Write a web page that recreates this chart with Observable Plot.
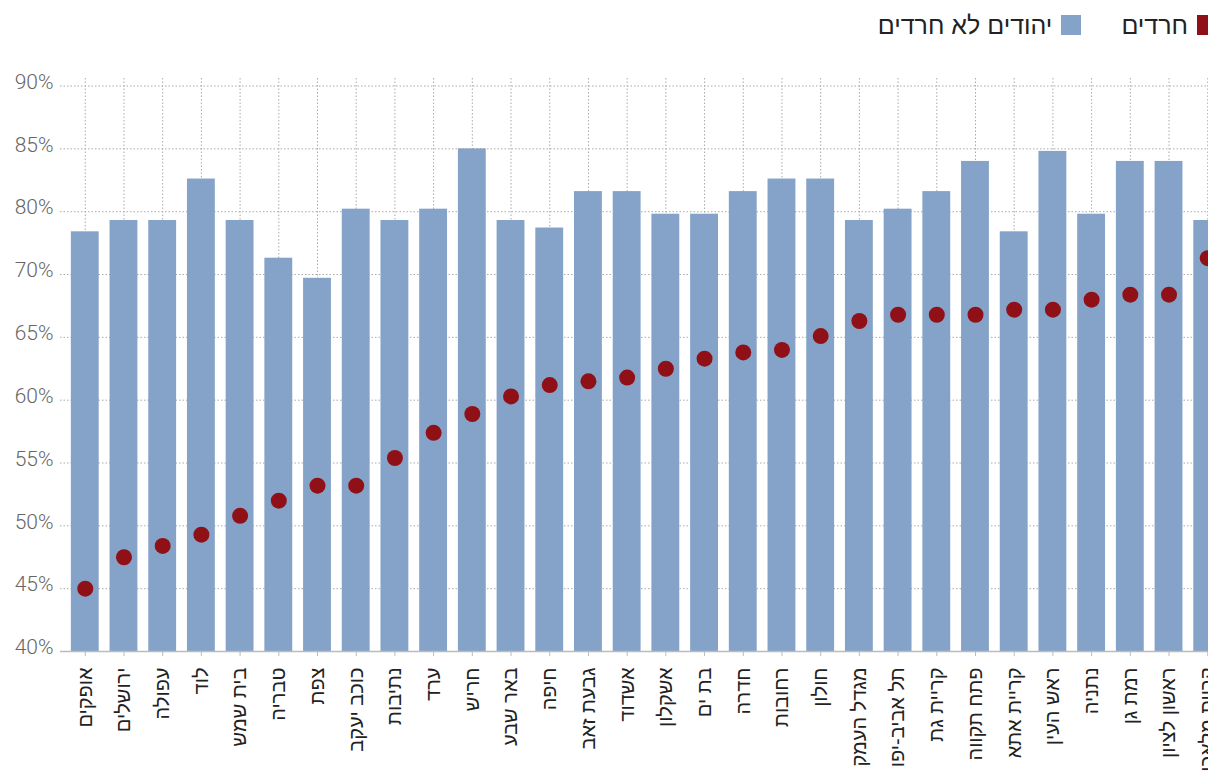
<!DOCTYPE html>
<html><head><meta charset="utf-8">
<script src="https://cdn.jsdelivr.net/npm/d3@7"></script>
<script src="https://cdn.jsdelivr.net/npm/@observablehq/plot@0.6"></script>
<style>
html,body{margin:0;padding:0;background:#fff;overflow:hidden;}
#wrap{width:1232px;}
#legend{height:50px;direction:rtl;display:flex;align-items:center;padding-right:15px;font-family:"Liberation Sans","DejaVu Sans",sans-serif;font-size:25px;color:#222;}
.item{display:flex;align-items:center;margin-left:40px;}
.sw{width:20px;height:20px;margin-left:9px;}
svg{max-width:none!important;}
</style></head><body>
<div id="wrap">
<div id="legend"></div>
<div id="chart"></div>
</div>
<script>
const cities = ["אופקים","ירושלים","עפולה","לוד","בית שמש","טבריה","צפת","כוכב יעקב","נתיבות","ערד","חריש","באר שבע","חיפה","גבעת זאב","אשדוד","אשקלון","בת ים","חדרה","רחובות","חולון","מגדל העמק","תל אביב-יפו","קריית גת","פתח תקווה","קריית אתא","ראש העין","נתניה","רמת גן","ראשון לציון","קריית מלאכי"];
const nonHaredi = [73.4,74.3,74.3,77.6,74.3,71.3,69.7,75.2,74.3,75.2,80,74.3,73.7,76.6,76.6,74.8,74.8,76.6,77.6,77.6,74.3,75.2,76.6,79,73.4,79.8,74.8,79,79,74.3];
const haredi = [45,47.5,48.4,49.3,50.8,52,53.2,53.2,55.4,57.4,58.9,60.3,61.2,61.5,61.8,62.5,63.3,63.8,64,65.1,66.3,66.8,66.8,66.8,67.2,67.2,68,68.4,68.4,71.3];
const yTicks = [40,45,50,55,60,65,70,75,80,85];
const yTickLabels = ["40%","45%","50%","55%","60%","65%","70%","80%","85%","90%"];
const seriesNames = ["חרדים","יהודים לא חרדים"];
const seriesColors = ["#8f1117","#85a3c8"];

const legend = document.getElementById("legend");
seriesNames.forEach((n,i)=>{
  const it = document.createElement("div"); it.className="item";
  const sw = document.createElement("div"); sw.className="sw"; sw.style.background=seriesColors[i];
  const tx = document.createElement("span"); tx.textContent=n;
  it.appendChild(sw); it.appendChild(tx); legend.appendChild(it);
});

const data = cities.map((c,i)=>({city:c, nh:nonHaredi[i], h:haredi[i]}));
const font = "Liberation Sans, DejaVu Sans, sans-serif";
const chart = Plot.plot({
  width:1232, height:741,
  marginLeft:60, marginRight:0, marginTop:28, marginBottom:140,
  style:{fontFamily:font, maxWidth:"none", background:"#fff"},
  x:{domain:cities, paddingInner:0.28, paddingOuter:0.28, round:false, label:null},
  y:{domain:[40,85.6], label:null},
  marks:[
    Plot.gridX({stroke:"#aaa", strokeOpacity:1, strokeDasharray:"1.5,2"}),
    Plot.gridY(yTicks, {stroke:"#aaa", strokeOpacity:1, strokeDasharray:"1.5,2"}),
    Plot.barY(data,{x:"city", y1:40, y2:"nh", fill:seriesColors[1]}),
    Plot.dot(data,{x:"city", y:"h", r:8, fill:seriesColors[0]}),
    Plot.ruleY([40],{stroke:"#bbb", strokeWidth:1.5}),
    Plot.axisY(yTicks,{tickSize:0, tickPadding:7, tickFormat:d=>yTickLabels[yTicks.indexOf(d)], fontSize:21, fill:"#666", dy:-4, fontFamily:"Roboto, sans-serif", fontWeight:300}),
    Plot.axisX({tickRotate:-90, tickSize:5, stroke:"#bbb", tickPadding:11, fontSize:20, fill:"#222", label:null})
  ]
});
document.getElementById("chart").appendChild(chart);
</script>
</body></html>
